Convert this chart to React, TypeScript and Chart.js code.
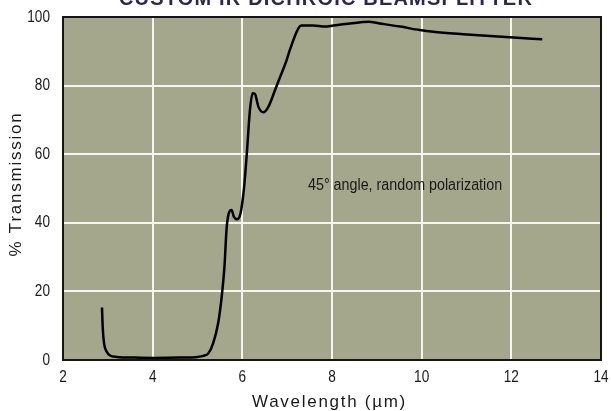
import React, { useEffect, useRef } from "react";
import { Chart, registerables } from "chart.js";

Chart.register(...registerables);

const wavelengths = [
  2.87, 2.885, 2.915, 2.975, 3.05, 3.2, 3.6, 4.05, 4.6, 5.0, 5.13, 5.24, 5.35, 5.46, 5.54, 5.6,
  5.65, 5.71, 5.76, 5.81, 5.88, 5.96, 6.04, 6.1, 6.17, 6.23, 6.28, 6.36, 6.47, 6.58, 6.73, 6.84,
  6.99, 7.06, 7.25, 7.32, 7.58, 7.84, 8.03, 8.4, 8.81, 9.07, 9.52, 9.96, 10.26, 10.93, 11.97, 12.69,
];
const transmission = [
  15.3, 9.7, 4.9, 2.4, 1.3, 0.9, 0.7, 0.6, 0.7, 0.9, 1.2, 1.9, 4.9, 10.7, 18.5, 27,
  38.5, 43.2, 43.7, 41.8, 41.0, 42.8, 50.5, 60.2, 72.9, 77.8, 77.6, 73.8, 72.2, 73.8, 78.7, 82.4,
  87.5, 90.4, 96.7, 97.5, 97.5, 97.2, 97.5, 98.1, 98.6, 98.1, 97.2, 96.2, 95.7, 95.0, 94.1, 93.5,
];
const xTickValues = [2, 4, 6, 8, 10, 12, 14];
const yTickValues = [0, 20, 40, 60, 80, 100];
const chartTitle = "CUSTOM IR DICHROIC BEAMSPLITTER";
const xAxisTitle = "Wavelength (\u00b5m)";
const yAxisTitle = "% Transmission";
const noteText = "45\u00b0 angle, random polarization";

const SANS = "'Liberation Sans', Arial, Helvetica, sans-serif";

function drawFitted(
  ctx: CanvasRenderingContext2D,
  text: string,
  font: string,
  left: number,
  y: number,
  width: number,
  color: string,
  baseline: CanvasTextBaseline
) {
  ctx.save();
  ctx.font = font;
  (ctx as any).letterSpacing = "0px";
  const w = ctx.measureText(text).width;
  const ls = (width - w) / text.length;
  (ctx as any).letterSpacing = ls + "px";
  ctx.fillStyle = color;
  ctx.textAlign = "left";
  ctx.textBaseline = baseline;
  ctx.fillText(text, left, y);
  ctx.restore();
}

// narrow text: regular font squeezed horizontally
function drawNarrow(
  ctx: CanvasRenderingContext2D,
  text: string,
  font: string,
  x: number,
  y: number,
  sx: number,
  align: CanvasTextAlign,
  color: string
) {
  ctx.save();
  ctx.translate(x, y);
  ctx.scale(sx, 1);
  ctx.font = font;
  ctx.fillStyle = color;
  ctx.textAlign = align;
  ctx.textBaseline = "middle";
  ctx.fillText(text, 0, 0);
  ctx.restore();
}

const decorPlugin = {
  id: "decor",
  beforeDraw(chart: any) {
    const { ctx, chartArea: a } = chart;
    ctx.save();
    ctx.fillStyle = "#a4a78b";
    ctx.fillRect(a.left, a.top, a.right - a.left, a.bottom - a.top);
    ctx.restore();
  },
  afterDraw(chart: any) {
    const { ctx, chartArea: a } = chart;
    const xs = chart.scales.x;
    const ys = chart.scales.y;
    ctx.save();
    ctx.strokeStyle = "#151515";
    ctx.lineWidth = 2;
    ctx.strokeRect(a.left, a.top, a.right - a.left, a.bottom - a.top);
    ctx.restore();

    const tickFont = "17px " + SANS;
    xTickValues.forEach((v) => {
      drawNarrow(ctx, String(v), tickFont, xs.getPixelForValue(v), a.bottom + 17, 0.8, "center", "#1a1a1a");
    });
    yTickValues.forEach((v) => {
      drawNarrow(ctx, String(v), tickFont, a.left - 13, ys.getPixelForValue(v), 0.8, "right", "#1a1a1a");
    });

    drawFitted(ctx, chartTitle, "bold 20px " + SANS, 119, 5, 414, "#2b2850", "alphabetic");
    drawFitted(ctx, xAxisTitle, "17px " + SANS, 252, 407, 155, "#1a1a1a", "alphabetic");
    drawNarrow(ctx, noteText, "16px " + SANS, 308, 186, 194 / 217, "left", "#1a1a1a");

    ctx.save();
    ctx.translate(16, 184);
    ctx.rotate(-Math.PI / 2);
    drawFitted(ctx, yAxisTitle, "17px " + SANS, -72.5, 0, 145, "#1a1a1a", "middle");
    ctx.restore();
  },
};

export default function App() {
  const ref = useRef<HTMLCanvasElement | null>(null);
  useEffect(() => {
    if (!ref.current) return;
    const chart = new Chart(ref.current, {
      type: "line",
      data: {
        datasets: [
          {
            data: wavelengths.map((x, i) => ({ x, y: transmission[i] })),
            borderColor: "#000000",
            borderWidth: 2.5,
            pointRadius: 0,
            fill: false,
            cubicInterpolationMode: "monotone",
          },
        ],
      },
      options: {
        animation: false,
        responsive: false,
        maintainAspectRatio: false,
        layout: { padding: { top: 17, right: 10, left: 0, bottom: 0 } },
        plugins: { legend: { display: false }, tooltip: { enabled: false }, title: { display: false } },
        scales: {
          x: {
            type: "linear",
            min: 2,
            max: 14,
            afterBuildTicks: (s: any) => {
              s.ticks = xTickValues.map((v) => ({ value: v }));
            },
            afterFit: (s: any) => {
              s.height = 51;
            },
            ticks: { display: false },
            grid: { color: "#f6f6f0", lineWidth: 2, drawTicks: false },
            border: { display: false },
          },
          y: {
            type: "linear",
            min: 0,
            max: 100,
            afterBuildTicks: (s: any) => {
              s.ticks = yTickValues.map((v) => ({ value: v }));
            },
            afterFit: (s: any) => {
              s.width = 63;
            },
            ticks: { display: false },
            grid: { color: "#f6f6f0", lineWidth: 2, drawTicks: false },
            border: { display: false },
          },
        },
      },
      plugins: [decorPlugin],
    } as any);
    return () => chart.destroy();
  }, []);
  return (
    <div style={{ position: "fixed", left: 0, top: 0, width: 611, height: 411, background: "#ffffff" }}>
      <canvas ref={ref} width={611} height={411} style={{ width: 611, height: 411, display: "block" }} />
    </div>
  );
}
